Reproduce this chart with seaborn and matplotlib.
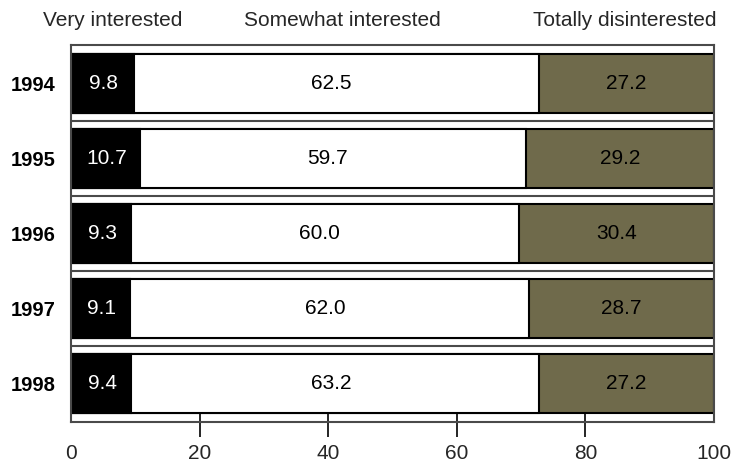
import matplotlib
matplotlib.use("Agg")
import matplotlib.pyplot as plt
import seaborn as sns
import pandas as pd
import numpy as np

years = ["1994", "1995", "1996", "1997", "1998"]
very = [9.8, 10.7, 9.3, 9.1, 9.4]
somewhat = [62.5, 59.7, 60.0, 62.0, 63.2]
totally = [27.2, 29.2, 30.4, 28.7, 27.2]
series_names = ["Very interested", "Somewhat interested", "Totally disinterested"]
xticks = [0, 20, 40, 60, 80, 100]

sns.set_theme(style="white")
plt.rcParams['font.family'] = ['Liberation Sans', 'DejaVu Sans']

df = pd.DataFrame({"year": years, "very": very, "somewhat": somewhat, "totally": totally})
df["cum1"] = df["very"]
df["cum2"] = 100.0 - df["totally"]
df["full"] = 100.0

fig = plt.figure(figsize=(7.31, 4.62), dpi=100)
ax = fig.add_axes([71/731, 40/462, (714-71)/731, (417-40)/462])

olive = "#6f6a4b"
common = dict(data=df, y="year", orient="h", width=0.79, edgecolor="black", linewidth=1.5, ax=ax)
sns.barplot(x="full", color=olive, saturation=1, **common)
sns.barplot(x="cum2", color="white", saturation=1, **common)
sns.barplot(x="cum1", color="black", saturation=1, **common)

# separators
for i in range(len(years) - 1):
    ax.axhline(i + 0.5, color="#4a4a4a", lw=1.5, zorder=0.5)

fs = 15
for i in range(len(years)):
    ax.text(very[i] / 2 + 0.2, i, f"{very[i]:.1f}", color="white", ha="center", va="center", fontsize=fs)
    ax.text(very[i] + somewhat[i] / 2 - 0.6, i, f"{somewhat[i]:.1f}", color="black", ha="center", va="center", fontsize=fs)
    ax.text(100 - totally[i] / 2, i, f"{totally[i]:.1f}", color="black", ha="center", va="center", fontsize=fs)

ax.set_xlim(0, 100)
ax.set_ylim(len(years) - 0.5 + 0.02, -0.5 - 0.02)
ax.set_xlabel("")
ax.set_ylabel("")
ax.set_xticks(xticks)
ax.set_xticklabels([str(t) for t in xticks], fontsize=15)
ax.tick_params(axis="x", direction="inout", length=21, width=1.2, color="black", pad=5, bottom=True)
ax.tick_params(axis="y", length=0, pad=11)
for lab in ax.get_yticklabels():
    lab.set_fontweight("bold")
    lab.set_fontsize(14.5)
    lab.set_color("black")
ticks = ax.xaxis.get_major_ticks()
ticks[0].tick1line.set_visible(False)
ticks[-1].tick1line.set_visible(False)

for s in ax.spines.values():
    s.set_visible(True)
    s.set_color("#4a4a4a")
    s.set_linewidth(1.5)

label_x = [113, 342, 625]
for name, lx in zip(series_names, label_x):
    fig.text(lx / 731, 1 - 21 / 462, name, ha="center", va="center", fontsize=15)

fig.savefig("out.png", dpi=100)
